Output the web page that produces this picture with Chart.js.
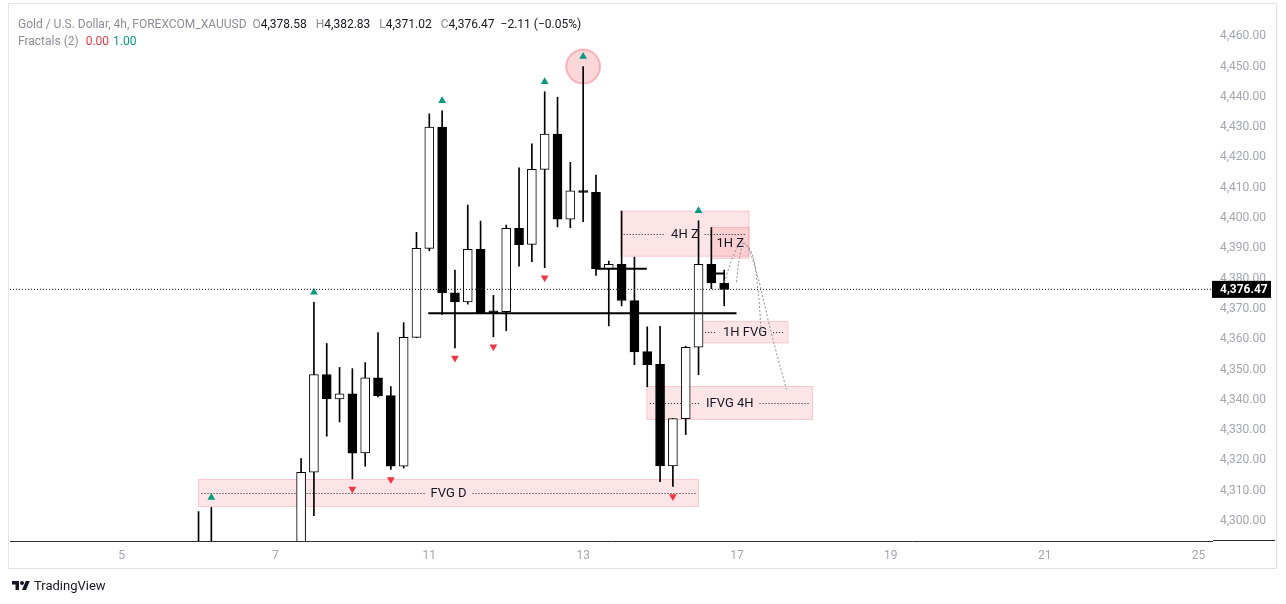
<!DOCTYPE html>
<html lang="en">
<head>
  <meta charset="UTF-8">
  <title>Gold / U.S. Dollar, 4h</title>
  <style>
    body {
      margin: 0;
      background: #ffffff;
      font-family: Roboto, "Liberation Sans", sans-serif;
    }
    .wrap {
      position: relative;
      width: 1286px;
      height: 604px;
      overflow: hidden;
    }
    .frame {
      position: absolute;
      left: 8px;
      top: 3px;
      width: 1269px;
      height: 566px;
      box-sizing: border-box;
      border: 1px solid #e0e3eb;
    }
    #chart {
      position: absolute;
      left: 0;
      top: 0;
    }
    /* right part of the time axis line, under the price scale */
    .axis-ext {
      position: absolute;
      left: 1213px;
      top: 540px;
      width: 62px;
      height: 1px;
      background: #2a2e39;
    }
    .legend {
      position: absolute;
      left: 18px;
      font-size: 12px;
      line-height: 17px;
      color: #8b8e98;
      white-space: nowrap;
    }
    .legend .v { color: #131722; margin-right: 6px; }
    .row1 { top: 16px; }
    .row2 { top: 33px; }
    .red { color: #f23645; margin-left: 4px; }
    .teal { color: #089981; margin-left: 4px; }
    .brand {
      position: absolute;
      left: 12px;
      top: 578px;
      font-size: 13px;
      color: #131722;
      display: flex;
      align-items: center;
      gap: 4px;
    }
  </style>
</head>
<body>
<div class="wrap">
  <div class="frame"></div>
  <canvas id="chart" width="1286" height="604"></canvas>
  <div class="axis-ext"></div>
  <div class="legend row1" id="legendTop"></div>
  <div class="legend row2">Fractals (2) <span class="red">0.00</span><span class="teal">1.00</span></div>
  <div class="brand">
    <svg width="18" height="14" viewBox="0 0 36 28"><path fill="#131722" d="M14 22H7V11H0V4h14v18z"/><circle fill="#131722" cx="20" cy="8" r="4"/><path fill="#131722" d="M28 22h-8l7.5-18h8L28 22z"/></svg>
    <span>TradingView</span>
  </div>
</div>

<script src="https://cdn.jsdelivr.net/npm/chart.js@4"></script>
<script>
  // candle slots: 0 = the bar at the "5" label, one slot per 4h bar
  const candleIdx = [6, 7, 14, 15, 16, 17, 18, 19, 20, 21, 22, 23, 24, 25, 26, 27,
    28, 29, 30, 31, 32, 33, 34, 35, 36, 37, 38, 39, 40, 41, 42, 43, 44, 45, 46, 47];
  const opens = [4286, 4281, 4284, 4316.1, 4348.3, 4340.3, 4342.0, 4322.5, 4347.3, 4341.4,
    4318.1, 4360.6, 4390.0, 4430.0, 4375.3, 4372.3, 4389.7, 4369.4, 4369.1, 4396.6,
    4391.3, 4416.1, 4427.7, 4399.6, 4409.1, 4408.5, 4383.3, 4384.7, 4372.8, 4355.9,
    4351.7, 4318.2, 4333.8, 4357.4, 4384.7, 4378.58];
  const highs = [4303.1, 4304.5, 4320.6, 4372.2, 4358.6, 4350.7, 4350.3, 4352.3, 4362.2, 4344.4,
    4365.5, 4395.3, 4434.4, 4435.4, 4382.8, 4404.3, 4399.0, 4374.5, 4397.7, 4416.6,
    4424.5, 4441.7, 4439.9, 4418.4, 4450.0, 4414.2, 4385.8, 4402.3, 4387.1, 4364.1,
    4364.3, 4333.8, 4357.7, 4399.1, 4396.9, 4382.83];
  const lows = [4272, 4270, 4279, 4301.8, 4328.0, 4332.7, 4313.9, 4318.1, 4341.0, 4317.0,
    4317.5, 4360.5, 4389.2, 4368.2, 4357.1, 4371.6, 4368.5, 4360.8, 4362.8, 4384.1,
    4385.6, 4383.6, 4397.1, 4396.8, 4398.8, 4381.1, 4364.4, 4371.0, 4351.6, 4344.3,
    4313.0, 4311.4, 4328.5, 4348.3, 4376.7, 4371.02];
  const closes = [4281, 4288, 4316.1, 4348.3, 4340.3, 4342.0, 4322.4, 4347.3, 4341.3, 4318.1,
    4360.6, 4390.0, 4430.0, 4375.3, 4372.3, 4389.7, 4368.7, 4368.7, 4396.6, 4391.2,
    4416.1, 4427.7, 4399.6, 4409.0, 4408.5, 4383.3, 4384.7, 4372.8, 4355.8, 4351.6,
    4318.2, 4333.8, 4357.3, 4384.7, 4378.58, 4376.47];

  const dayTickIdx = [0, 12, 24, 36, 48, 60, 72, 84];
  const dayLabels = ['5', '7', '11', '13', '17', '19', '21', '25'];

  // Fractals (2)
  const fractalUpIdx = [7, 15, 25, 33, 36, 45];
  const fractalDownIdx = [18, 21, 26, 29, 33, 43];
  const circledIdx = [36];

  // rectangles drawn on the chart
  const zoneNames = ['FVG D', '4H Z', '1H Z', '1H FVG', 'IFVG 4H'];
  const zoneStart = [6.0, 38.93, 46.0, 45.28, 40.97];
  const zoneEnd = [45.0, 48.94, 48.94, 51.98, 53.9];
  const zoneTop = [4313.7, 4402.3, 4396.9, 4365.9, 4344.4];
  const zoneBottom = [4304.8, 4387.4, 4386.7, 4358.8, 4333.5];

  // horizontal black levels
  const levelPrice = [4368.6, 4383.3, 4381.7];
  const levelStart = [23.92, 37.03, 46.24];
  const levelEnd = [47.96, 40.97, 47.02];

  // dotted projection paths
  const pathAx = [47.02, 47.65, 48.35, 49.12, 49.59, 49.9];
  const pathAy = [4378.8, 4386.8, 4391.7, 4388.8, 4377.9, 4362.0];
  const pathBx = [47.96, 48.19, 48.58, 49.36, 50.68, 51.85];
  const pathBy = [4378.8, 4386.8, 4391.7, 4384.5, 4362.0, 4343.5];

  const xMin = -8.705, xMax = 85.05;
  const yMin = 4293.4, yMax = 4471.0;
  const fractalGap = 3.3;

  const last = closes.length - 1;
  const lastClose = closes[last];
  const fmt = v => v.toLocaleString('en-US', { minimumFractionDigits: 2, maximumFractionDigits: 2 });

  // legend line
  const chg = closes[last] - closes[last - 1];
  const pct = chg / closes[last - 1] * 100;
  const minus = s => s.replace('-', '\u2212');
  document.getElementById('legendTop').innerHTML =
    'Gold / U.S. Dollar, 4h, FOREXCOM_XAUUSD&nbsp; ' +
    'O<span class="v">' + fmt(opens[last]) + '</span> ' +
    'H<span class="v">' + fmt(highs[last]) + '</span> ' +
    'L<span class="v">' + fmt(lows[last]) + '</span> ' +
    'C<span class="v">' + fmt(closes[last]) + '</span>' +
    '<span class="v">' + minus(chg.toFixed(2)) + ' (' + minus(pct.toFixed(2)) + '%)</span>';

  // zones are drawn under the candles
  const zonePlugin = {
    id: 'zones',
    beforeDatasetsDraw(chart) {
      const { ctx, chartArea, scales: { x, y } } = chart;
      ctx.save();
      ctx.beginPath();
      ctx.rect(chartArea.left, chartArea.top, chartArea.right - chartArea.left, chartArea.bottom - chartArea.top);
      ctx.clip();
      ctx.font = '13px Roboto, sans-serif';
      ctx.textAlign = 'center';
      ctx.textBaseline = 'middle';
      zoneNames.forEach((name, k) => {
        const x0 = x.getPixelForValue(zoneStart[k]);
        const x1 = x.getPixelForValue(zoneEnd[k]);
        const y0 = y.getPixelForValue(zoneTop[k]);
        const y1 = y.getPixelForValue(zoneBottom[k]);
        ctx.fillStyle = 'rgba(242, 54, 69, 0.13)';
        ctx.fillRect(x0, y0, x1 - x0, y1 - y0);
        ctx.strokeStyle = 'rgba(242, 54, 69, 0.22)';
        ctx.lineWidth = 1;
        ctx.strokeRect(x0, y0, x1 - x0, y1 - y0);
      });
      zoneNames.forEach((name, k) => {
        const x0 = x.getPixelForValue(zoneStart[k]);
        const x1 = x.getPixelForValue(zoneEnd[k]);
        const ym = Math.round((y.getPixelForValue(zoneTop[k]) + y.getPixelForValue(zoneBottom[k])) / 2) + 0.5;
        const cx = (x0 + x1) / 2;
        const w = ctx.measureText(name).width;
        ctx.strokeStyle = '#131722';
        ctx.setLineDash([1, 2]);
        ctx.beginPath();
        if (cx - w / 2 - 6 > x0 + 3) {
          ctx.moveTo(x0 + 3, ym); ctx.lineTo(cx - w / 2 - 6, ym);
          ctx.moveTo(cx + w / 2 + 6, ym); ctx.lineTo(x1 - 3, ym);
        }
        ctx.stroke();
        ctx.setLineDash([]);
        ctx.fillStyle = '#131722';
        ctx.fillText(name, cx, ym);
      });
      ctx.restore();
    },
    afterDraw(chart) {
      // last price tag on the price scale
      const { ctx, chartArea, scales: { y } } = chart;
      const py = y.getPixelForValue(lastClose);
      ctx.save();
      ctx.fillStyle = '#000000';
      ctx.fillRect(chartArea.right, py - 8.5, 59, 17);
      ctx.fillStyle = '#ffffff';
      ctx.font = 'bold 12px Roboto, sans-serif';
      ctx.textBaseline = 'middle';
      ctx.textAlign = 'left';
      ctx.fillText(fmt(lastClose), chartArea.right + 8, py + 0.5);
      ctx.restore();
    }
  };

  const pick = (idxList, arr, d) => idxList.map(i => ({ x: i, y: arr[candleIdx.indexOf(i)] + d }));

  const datasets = [
    {
      type: 'bar',
      label: 'body',
      data: candleIdx.map((x, k) => ({ x, y: [Math.min(opens[k], closes[k]), Math.max(opens[k], closes[k])] })),
      backgroundColor: candleIdx.map((x, k) => closes[k] >= opens[k] ? '#ffffff' : '#000000'),
      borderColor: '#000000',
      borderWidth: 1,
      borderSkipped: false,
      barThickness: 9,
      grouped: false,
      order: 1
    },
    {
      type: 'bar',
      label: 'wick',
      data: candleIdx.map((x, k) => ({ x, y: [lows[k], highs[k]] })),
      backgroundColor: '#000000',
      borderWidth: 0,
      barThickness: 1,
      grouped: false,
      order: 2
    },
    {
      type: 'line',
      label: 'last price',
      data: [{ x: xMin, y: lastClose }, { x: xMax, y: lastClose }],
      borderColor: '#131722',
      borderWidth: 1,
      borderDash: [1, 2],
      pointRadius: 0,
      order: 0
    },
    {
      type: 'line',
      label: 'circle',
      data: pick(circledIdx, highs, 0),
      showLine: false,
      pointRadius: 17,
      pointBackgroundColor: 'rgba(242, 54, 69, 0.2)',
      pointBorderColor: 'rgba(242, 54, 69, 0.3)',
      pointBorderWidth: 2,
      order: 5
    },
    {
      type: 'line',
      label: 'fractal up',
      data: pick(fractalUpIdx, highs, fractalGap),
      showLine: false,
      pointStyle: 'triangle',
      pointRadius: 4.5,
      pointBackgroundColor: '#089981',
      pointBorderWidth: 0,
      order: 0
    },
    {
      type: 'line',
      label: 'fractal down',
      data: pick(fractalDownIdx, lows, -fractalGap),
      showLine: false,
      pointStyle: 'triangle',
      pointRotation: 180,
      pointRadius: 4.5,
      pointBackgroundColor: '#f23645',
      pointBorderWidth: 0,
      order: 0
    },
    {
      type: 'line',
      label: 'path A',
      data: pathAx.map((x, k) => ({ x, y: pathAy[k] })),
      borderColor: '#8a8d96',
      borderWidth: 1,
      borderDash: [2, 2],
      tension: 0.4,
      pointRadius: 0,
      order: 0
    },
    {
      type: 'line',
      label: 'path B',
      data: pathBx.map((x, k) => ({ x, y: pathBy[k] })),
      borderColor: '#8a8d96',
      borderWidth: 1,
      borderDash: [2, 2],
      tension: 0.4,
      pointRadius: 0,
      order: 0
    }
  ];

  levelPrice.forEach((p, k) => {
    datasets.push({
      type: 'line',
      label: 'level ' + k,
      data: [{ x: levelStart[k], y: p }, { x: levelEnd[k], y: p }],
      borderColor: '#000000',
      borderWidth: 2,
      pointRadius: 0,
      order: 0
    });
  });

  new Chart(document.getElementById('chart'), {
    type: 'bar',
    data: { datasets },
    options: {
      responsive: false,
      animation: false,
      devicePixelRatio: 1,
      layout: { autoPadding: false, padding: { left: 10, top: 3, right: 0, bottom: 0 } },
      plugins: { legend: { display: false }, tooltip: { enabled: false } },
      scales: {
        x: {
          type: 'linear',
          min: xMin,
          max: xMax,
          offset: false,
          grid: { display: false, drawTicks: false },
          border: { display: true, color: '#2a2e39', width: 1 },
          afterBuildTicks(scale) {
            scale.ticks = dayTickIdx.map(v => ({ value: v }));
          },
          ticks: {
            autoSkip: false,
            maxRotation: 0,
            padding: 8,
            color: '#a3a6af',
            font: { size: 12, family: 'Roboto' },
            callback: v => {
              const k = dayTickIdx.indexOf(v);
              return k < 0 ? '' : dayLabels[k];
            }
          },
          afterFit(scale) {
            scale.height = 63;
            scale.paddingLeft = 0;
            scale.paddingRight = 0;
          }
        },
        y: {
          type: 'linear',
          position: 'right',
          min: yMin,
          max: yMax,
          grid: { display: false, drawTicks: false },
          border: { display: false },
          ticks: {
            stepSize: 10,
            includeBounds: false,
            autoSkip: false,
            padding: 8,
            color: '#a3a6af',
            font: { size: 12, family: 'Roboto' },
            callback: v => v > 4460 ? '' : fmt(v)
          },
          afterFit(scale) {
            scale.width = 74;
            scale.paddingTop = 0;
            scale.paddingBottom = 0;
          }
        }
      }
    },
    plugins: [zonePlugin]
  });
</script>
</body>
</html>
